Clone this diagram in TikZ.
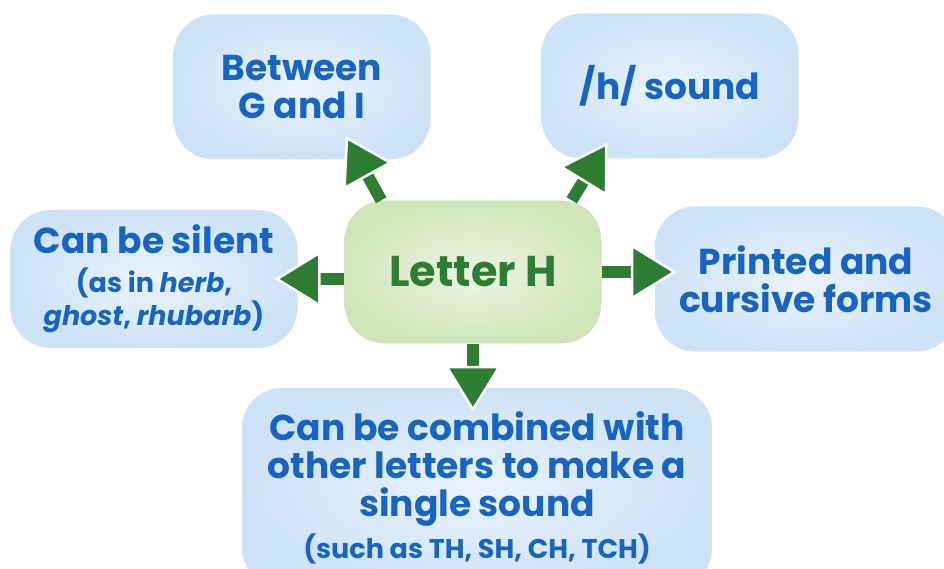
\documentclass[tikz,border=0pt]{standalone}
\usepackage{fontspec}
\setmainfont{Poppins}
\usetikzlibrary{arrows.meta}

\definecolor{hblue}{RGB}{24,100,192}
\definecolor{hgreen}{RGB}{46,125,50}
\definecolor{boxin}{RGB}{233,243,252}
\definecolor{boxout}{RGB}{206,227,247}
\definecolor{hin}{RGB}{236,245,227}
\definecolor{hout}{RGB}{208,230,186}
\newcommand\subtxt{\fontsize{27}{31}\selectfont}

\begin{document}
\begin{tikzpicture}[x=1pt,y=-1pt,
    bubble/.style={rounded corners=40pt,inner color=boxin,outer color=boxout,
      text=hblue,align=center,inner sep=0pt,
      font=\bfseries\fontsize{36}{38}\selectfont},
    hub/.style={rounded corners=40pt,inner color=hin,outer color=hout,
      text=hgreen,font=\bfseries\fontsize{43}{46}\selectfont},
    arr/.style={line width=12pt,draw=hgreen,
      -{Triangle[length=46pt,width=56pt,fill=hgreen,color=white,line width=2.5pt]}}]
  \useasboundingbox (0,0) rectangle (944,569);
  \clip (0,0) rectangle (944,569);
  % hub and bubbles
  \node[hub,minimum width=257pt,minimum height=143pt] (h) at (473,272) {Letter H};
  \node[bubble,minimum width=257pt,minimum height=145pt] (g) at (302,87) {Between\\G and I};
  \node[bubble,minimum width=257pt,minimum height=145pt] (s) at (670,86) {/h/ sound};
  \node[bubble,minimum width=287pt,minimum height=138pt] (l) at (154,279)
    {Can be silent\\[1pt]\subtxt (as in \textit{herb},\\[-5pt]\subtxt \textit{ghost}, \textit{rhubarb})};
  \node[bubble,minimum width=302pt,minimum height=145pt] (r) at (806,279) {Printed and\\cursive forms};
  \node[bubble,minimum width=470pt,minimum height=200pt] (b) at (477,488)
    {Can be combined with\\other letters to make a\\single sound\\[4pt]\subtxt (such as TH, SH, CH, TCH)};
  % arrows
  \draw[arr,shorten >=-27pt] (h.142) -- (g.-52);
  \draw[arr,shorten >=-19pt] (h.36) -- (s.225);
  \draw[arr,shorten >=-23pt] (l.east -| h.west) -- (l.east);
  \draw[arr,shorten >=-22pt] (h.east) -- (h.east -| r.west);
  \draw[arr,shorten >=-24pt] (h.south) -- (h.south |- b.north);
\end{tikzpicture}
\end{document}
